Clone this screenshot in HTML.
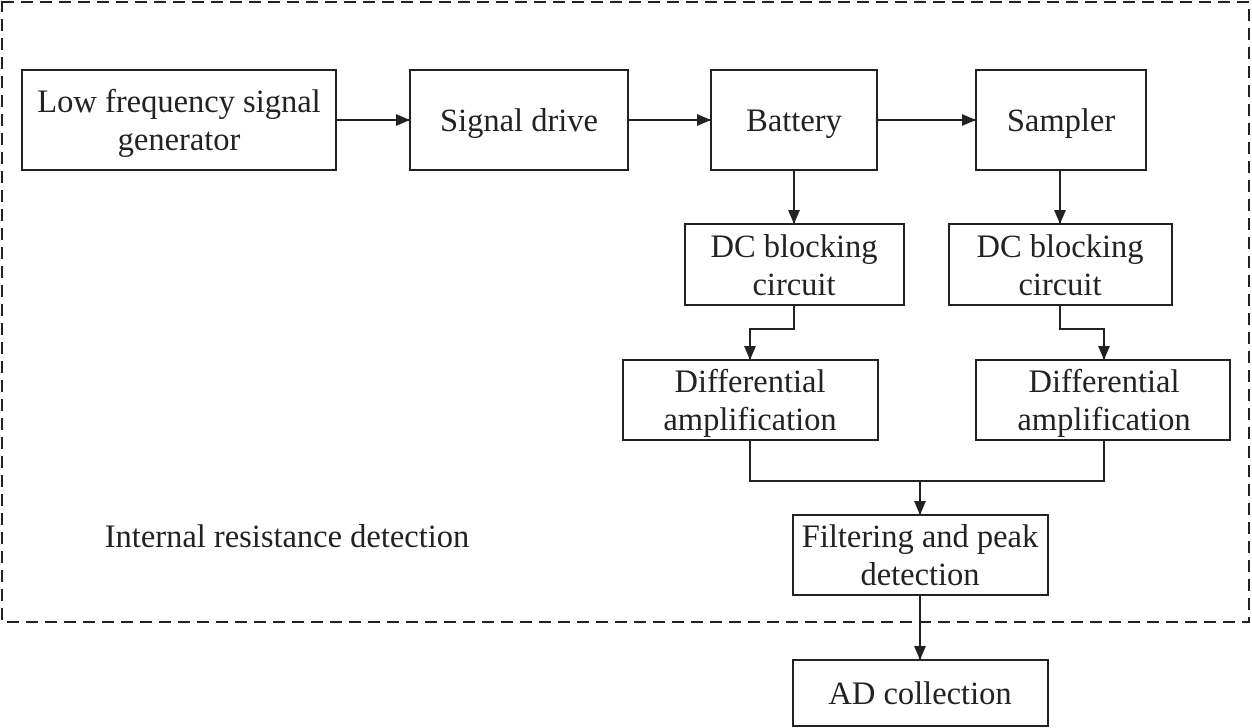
<!DOCTYPE html>
<html><head><style>
body{margin:0;background:#fff;}
svg{display:block}
text{font-family:"Liberation Serif",serif;font-size:32.5px;fill:#222;text-anchor:middle}
rect{fill:#fff;stroke:#222;stroke-width:2}
line,polyline{stroke:#222;stroke-width:2;fill:none}
</style></head><body>
<svg width="1252" height="728" viewBox="0 0 1252 728">
<defs><marker id="a" markerWidth="14" markerHeight="12" refX="14" refY="6" orient="auto" markerUnits="userSpaceOnUse"><path d="M0,0 L14,6 L0,12 z" fill="#222"/></marker></defs>
<rect x="2" y="2" width="1247" height="620" style="stroke-dasharray:12,7;fill:none"/>
<rect x="22" y="70" width="314" height="100"/>
<text x="179" y="112">Low frequency signal</text><text x="179" y="150">generator</text>
<rect x="410" y="70" width="218" height="100"/><text x="519" y="131">Signal drive</text>
<rect x="711" y="70" width="166" height="100"/><text x="794" y="131">Battery</text>
<rect x="976" y="70" width="170" height="100"/><text x="1061" y="131">Sampler</text>
<rect x="685" y="224" width="219" height="81"/><text x="794" y="257">DC blocking</text><text x="794" y="295">circuit</text>
<rect x="949" y="224" width="223" height="81"/><text x="1060" y="257">DC blocking</text><text x="1060" y="295">circuit</text>
<rect x="623" y="360" width="255" height="80"/><text x="750" y="392">Differential</text><text x="750" y="430">amplification</text>
<rect x="976" y="360" width="254" height="80"/><text x="1104" y="392">Differential</text><text x="1104" y="430">amplification</text>
<rect x="793" y="515" width="255" height="80"/><text x="920" y="547">Filtering and peak</text><text x="920" y="585">detection</text>
<rect x="793" y="660" width="255" height="66"/><text x="920" y="704">AD collection</text>
<text x="287" y="547">Internal resistance detection</text>
<line x1="336" y1="120" x2="410" y2="120" marker-end="url(#a)"/>
<line x1="628" y1="120" x2="711" y2="120" marker-end="url(#a)"/>
<line x1="877" y1="120" x2="976" y2="120" marker-end="url(#a)"/>
<line x1="794" y1="170" x2="794" y2="224" marker-end="url(#a)"/>
<line x1="1060" y1="170" x2="1060" y2="224" marker-end="url(#a)"/>
<polyline points="794,305 794,329 750,329 750,360" marker-end="url(#a)"/>
<polyline points="1060,305 1060,329 1104,329 1104,360" marker-end="url(#a)"/>
<polyline points="750,440 750,481 1104,481 1104,440"/>
<line x1="920" y1="481" x2="920" y2="515" marker-end="url(#a)"/>
<line x1="920" y1="595" x2="920" y2="660" marker-end="url(#a)"/>
</svg>
</body></html>
